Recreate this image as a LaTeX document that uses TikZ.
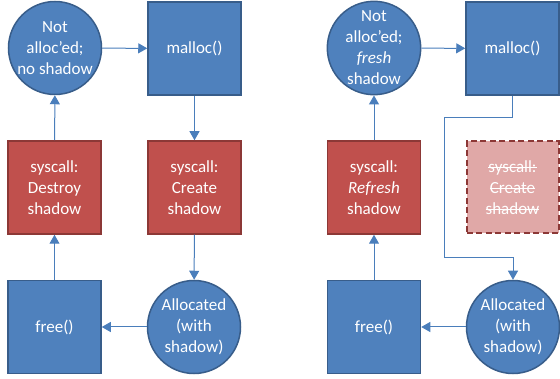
\documentclass[tikz,border=0pt]{standalone}
\usepackage{fontspec}
\setmainfont{Carlito}
\usetikzlibrary{arrows.meta}
\definecolor{boxblue}{HTML}{4F81BD}
\definecolor{edgeblue}{HTML}{385D8A}
\definecolor{boxred}{HTML}{C0504D}
\definecolor{edgered}{HTML}{8C3836}
\definecolor{fadedred}{HTML}{E0A8A7}
\definecolor{lineblue}{HTML}{4A7EBB}
\newsavebox\strkbox
\newcommand\strk[1]{\sbox\strkbox{#1}\rlap{\usebox\strkbox}\rule[0.26em]{\wd\strkbox}{0.9pt}}
\begin{document}
\begin{tikzpicture}[x=1pt, y=-1pt,
      every node/.style={text=white, align=center, inner sep=0pt,
                         font=\fontsize{17}{21}\selectfont},
      state/.style={circle, minimum size=93pt, fill=boxblue, draw=edgeblue, line width=1.5pt},
      call/.style={rectangle, minimum size=93pt, fill=boxblue, draw=edgeblue, line width=1.5pt},
      sys/.style={rectangle, minimum size=93pt, fill=boxred, draw=edgered, line width=1.5pt},
      gone/.style={rectangle, minimum size=92pt, fill=fadedred, draw=edgered, line width=2pt,
                   dash pattern=on 6pt off 3.5pt},
      flow/.style={draw=lineblue, line width=1pt, -{Triangle[width=10pt,length=9pt]}}]
      \useasboundingbox (0, 0) rectangle (560, 379);
      % left cycle
      \node[state] (notL)    at (55, 48)      {Not\\alloc’ed;\\no shadow};
      \node[call]  (mallocL) at (194.5, 48.5) {malloc()};
      \node[sys]   (destroy) at (54.5, 187.5) {syscall:\\Destroy\\shadow};
      \node[sys]   (create)  at (194.5, 187.5) {syscall:\\Create\\shadow};
      \node[call]  (freeL)   at (54.5, 327)   {free()};
      \node[state] (allocL)  at (194, 327)    {Allocated\\(with\\shadow)};
      % right cycle
      \node[state] (notR)    at (374, 48)     {Not\\alloc’ed;\\\textit{fresh}\\shadow};
      \node[call]  (mallocR) at (512.5, 48.5) {malloc()};
      \node[sys]   (refresh) at (374, 187.5)  {syscall:\\\textit{Refresh}\\shadow};
      \node[gone]  (createR) at (512.5, 187.5) {\strk{syscall:}\\\strk{Create}\\\strk{shadow}};
      \node[call]  (freeR)   at (374, 327)    {free()};
      \node[state] (allocR)  at (513, 327)    {Allocated\\(with\\shadow)};
      \coordinate (bendA) at (444, 118);
      \coordinate (bendB) at (444, 258);
      \draw[flow] (notL) -- (mallocL);
      \draw[flow] (mallocL) -- (create);
      \draw[flow] (create) -- (allocL);
      \draw[flow] (allocL) -- (freeL);
      \draw[flow] (freeL) -- (destroy);
      \draw[flow] (destroy) -- (notL);
      \draw[flow] (notR) -- (mallocR);
      \draw[flow] (mallocR.south) |- (bendA) -- (bendB) -| (allocR.north);
      \draw[flow] (allocR) -- (freeR);
      \draw[flow] (freeR) -- (refresh);
      \draw[flow] (refresh) -- (notR);
\end{tikzpicture}
\end{document}
